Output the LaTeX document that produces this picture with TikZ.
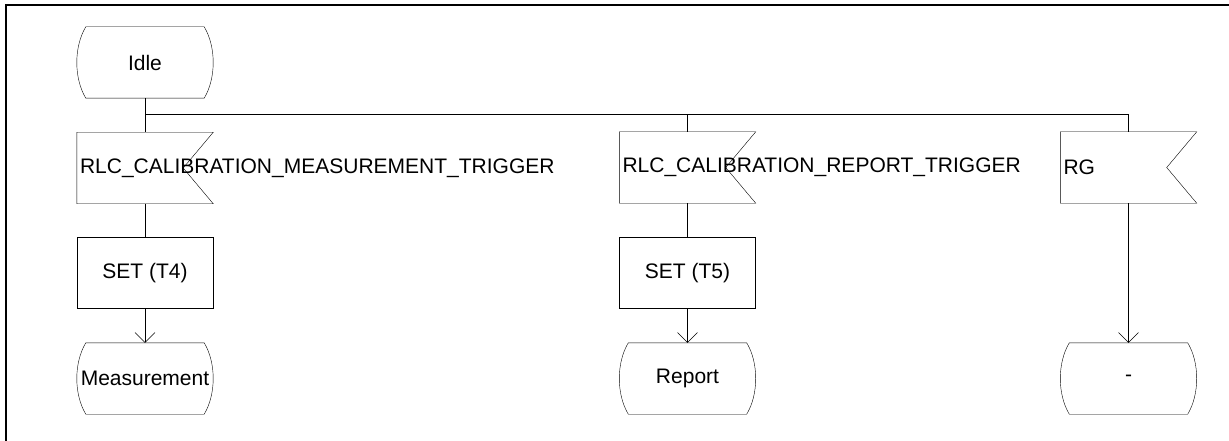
\documentclass[tikz,border=0pt]{standalone}
\usepackage{fontspec}
\setmainfont{Liberation Sans}
\usepackage{tikz}
\usetikzlibrary{positioning,arrows.meta,calc}
\tikzset{
  sdlnode/.style={minimum width=136pt,minimum height=71pt,inner sep=0pt},
  statenode/.style={sdlnode},
  inputnode/.style={sdlnode,text width=130pt,inner xsep=3pt,align=left},
  tasknode/.style={sdlnode,draw},
  flow/.style={-{Straight Barb[length=10pt,width=20pt]}}
}
\newcommand{\drawstate}[1]{\draw ([xshift=9pt]#1.north west) -- ([xshift=-9pt]#1.north east)
  .. controls ([xshift=3pt,yshift=-20pt]#1.north east) and ([xshift=3pt,yshift=20pt]#1.south east) .. ([xshift=-9pt]#1.south east)
  -- ([xshift=9pt]#1.south west)
  .. controls ([xshift=-3pt,yshift=20pt]#1.south west) and ([xshift=-3pt,yshift=-20pt]#1.north west) .. cycle;}
\newcommand{\drawinput}[1]{\draw (#1.north west) -- (#1.north east) -- ([xshift=-30pt]#1.east) -- (#1.south east) -- (#1.south west) -- cycle;}

\begin{document}
\begin{tikzpicture}[x=1pt,y=-1pt,font=\fontsize{21}{25}\selectfont]
\useasboundingbox (0,0) rectangle (1229,441);
\draw[line width=2pt] (5.5,5.5) rectangle (1245,455);
% start state
\node[statenode] (idle) at (145,62.5) {Idle};
\drawstate{idle}
\coordinate (split) at (145,114);
% column 1
\node[inputnode] (in1) at (145,168) {\mbox{RLC\_CALIBRATION\_MEASUREMENT\_TRIGGER}};
\drawinput{in1}
\node[tasknode] (t1) at (145,273) {SET (T4)};
\node[statenode] (meas) at (145,378.5) {Measurement};
\drawstate{meas}
% column 2
\node[inputnode] (in2) at (687.5,167.5) {\mbox{RLC\_CALIBRATION\_REPORT\_TRIGGER}};
\drawinput{in2}
\node[tasknode] (t2) at (687.5,273) {SET (T5)};
\node[statenode] (rep) at (687.5,378.5) {Report};
\drawstate{rep}
% column 3
\node[inputnode] (in3) at (1128.5,167.5) {RG};
\drawinput{in3}
\node[statenode] (same) at (1128.5,378.5) {-};
\drawstate{same}
% connectors
\draw (idle) -- (in1);
\draw (split) -| (in2);
\draw (split) -| (in3);
\draw (in1) -- (t1);
\draw (in2) -- (t2);
\draw[flow] (t1) -- (meas);
\draw[flow] (t2) -- (rep);
\draw[flow] (in3) -- (same);
\end{tikzpicture}
\end{document}
